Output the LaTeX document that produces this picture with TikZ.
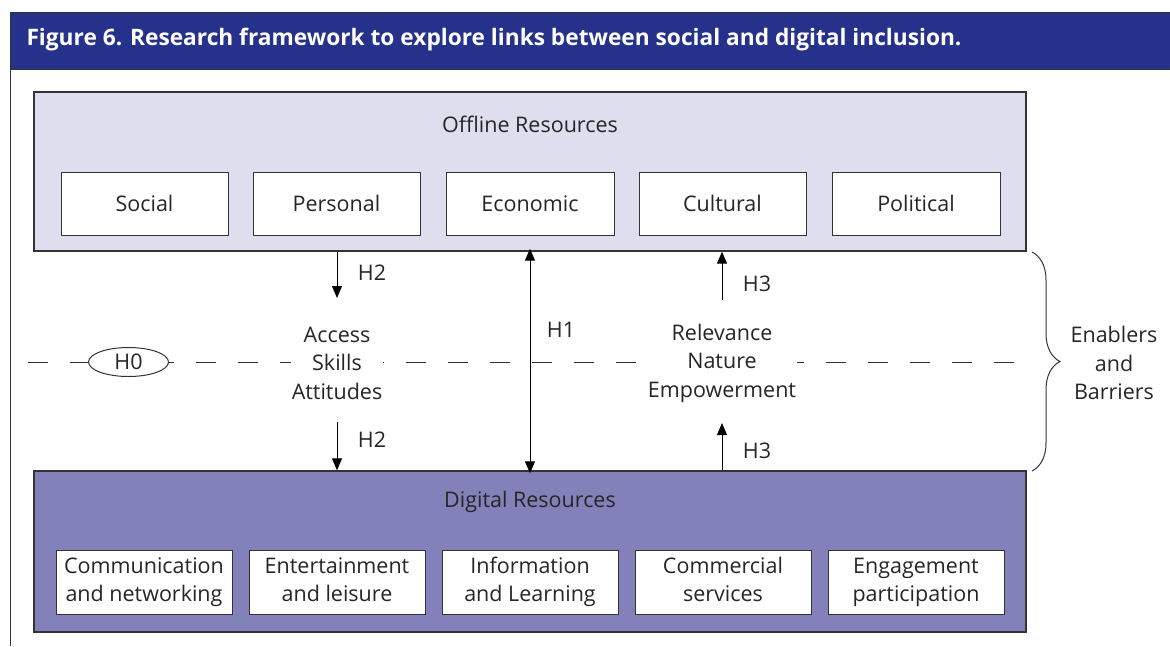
\documentclass[tikz,border=0pt]{standalone}
\usepackage{fontspec}
\setmainfont{Open Sans}
\usetikzlibrary{arrows.meta,decorations.pathreplacing,shapes.geometric}
\definecolor{hdr}{HTML}{25318A}
\definecolor{offfill}{HTML}{DFDEEE}
\definecolor{digfill}{HTML}{8381BA}
\definecolor{edge}{HTML}{333333}
\tikzset{
  txt/.style={font=\fontsize{21.5}{28.5}\selectfont, text=black!85},
  outerbox/.style={draw=edge, line width=1.4pt, minimum width=992pt, inner sep=0pt},
  innerbox/.style={draw=edge, line width=1pt, fill=white, minimum height=63pt, inner sep=0pt, align=center, txt},
  onebox/.style={innerbox, text height=15.3pt, text depth=0pt},
  arr/.style={line width=1pt, -{Triangle[length=12pt,width=10pt]}},
  darr/.style={line width=1pt, {Triangle[length=12pt,width=10pt]}-{Triangle[length=12pt,width=10pt]}},
  midtxt/.style={txt, align=center, fill=white, inner sep=1pt},
}
\begin{document}
\begin{tikzpicture}[x=1pt,y=-1pt]
\useasboundingbox (0,0) rectangle (1170,646);
% frame and header
\draw[edge, line width=1pt] (10,69) -- (10,646);
\draw[edge, line width=1pt, fill=hdr] (10,12) rectangle (1175,69);
\node[anchor=west, text=white, font=\bfseries\fontsize{22.7}{24}\selectfont] (title) at (23,40) {Figure 6. Research framework to explore links between social and digital inclusion.};
% outer boxes
\node[outerbox, fill=offfill, minimum height=159pt] (off) at (530,171.5) {};
\node[outerbox, fill=digfill, minimum height=161pt] (dig) at (530,551.5) {};
\node[txt] (offlbl) at (530,124) {Offline Resources};
\node[txt] (diglbl) at (530,502) {Digital Resources};
% offline inner boxes
\node[onebox, minimum width=167pt] (social) at (144.5,203.5) {Social};
\node[onebox, minimum width=167pt] (personal) at (336.5,203.5) {Personal};
\node[onebox, minimum width=168pt] (economic) at (530,203.5) {Economic};
\node[onebox, minimum width=167pt] (cultural) at (722.5,203.5) {Cultural};
\node[onebox, minimum width=168pt] (political) at (916,203.5) {Political};
% digital inner boxes
\node[innerbox, minimum width=176pt, minimum height=64pt] (comm) at (144,582) {\strut Communication\\\strut and networking};
\node[innerbox, minimum width=176pt, minimum height=64pt] (ent) at (337,582) {\strut Entertainment\\\strut and leisure};
\node[innerbox, minimum width=176pt, minimum height=64pt] (info) at (530,582) {\strut Information\\\strut and Learning};
\node[innerbox, minimum width=176pt, minimum height=64pt] (comc) at (723,582) {\strut Commercial\\\strut services};
\node[innerbox, minimum width=176pt, minimum height=64pt] (eng) at (916,582) {\strut Engagement\\\strut participation};
% dashed line
\coordinate (dl) at (28,362);
\coordinate (dr) at (1024,362);
\draw[edge, line width=1pt, dash pattern=on 20pt off 22pt] (dl) -- (dr);
\node[draw=edge, line width=1pt, ellipse, fill=white, minimum width=80pt, minimum height=29pt, inner sep=0pt, txt] (h0) at (128.5,362) {H0};
\node[midtxt] (ask) at (337,363) {Access\\Skills\\Attitudes};
\node[midtxt] (rne) at (722,363) {Relevance\\Nature\\Empowerment};
% arrows
\coordinate (h2a) at (337,298);
\coordinate (h2b) at (337,422);
\coordinate (h3a) at (722,300);
\coordinate (h3b) at (722,423);
\draw[arr] (off.south -| h2a) -- (h2a);
\draw[arr] (h2b) -- (dig.north -| h2b);
\draw[arr] (h3a) -- (off.south -| h3a);
\draw[arr] (dig.north -| h3b) -- (h3b);
\coordinate (h1x) at (530,0);
\draw[darr] ([yshift=3pt]off.south -| h1x) -- ([yshift=-3pt]dig.north -| h1x);
\node[txt] (lh2a) at (372,273) {H2};
\node[txt] (lh2b) at (372,440) {H2};
\node[txt] (lh1) at (561,330) {H1};
\node[txt] (lh3a) at (757,284) {H3};
\node[txt] (lh3b) at (757,451) {H3};
% brace
\coordinate (bt) at (1032,252);
\coordinate (bb) at (1032,471);
\draw[edge, line width=1pt, decorate, decoration={brace, amplitude=28pt}] (bt) -- (bb);
\node[txt, align=center] (eb) at (1114,363) {Enablers\\and\\Barriers};
\end{tikzpicture}
\end{document}
